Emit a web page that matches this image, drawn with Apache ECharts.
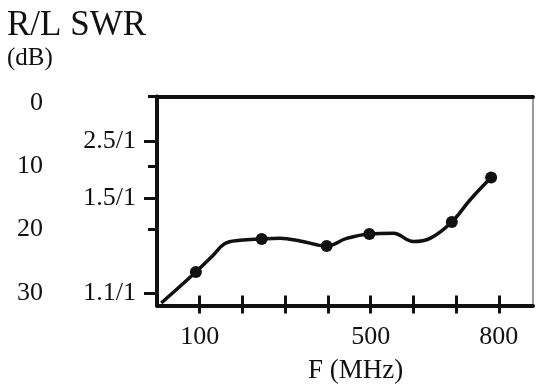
<!DOCTYPE html>
<html>
<head>
<meta charset="utf-8">
<script src="https://cdn.jsdelivr.net/npm/echarts@6/dist/echarts.min.js"></script>
<style>
html,body{margin:0;padding:0;background:#fff;}
#chart{width:537px;height:385px;}
</style>
</head>
<body>
<div id="chart"></div>
<script>
// Frequency (MHz) and return loss (dB)
var curveFreq = [10, 91, 128, 159, 194, 245, 288, 335, 397, 444, 497, 553, 600, 639, 690, 733, 782];
var curveRL   = [31.6, 26.7, 24.3, 22.2, 21.7, 21.5, 21.4, 21.8, 22.6, 21.4, 20.7, 20.6, 21.9, 21.4, 18.8, 15.3, 11.8];
var markerFreq = [91, 245, 397, 497, 690, 782];
var markerRL   = [26.7, 21.5, 22.6, 20.7, 18.8, 11.8];

var xTickValues = [100, 200, 300, 400, 500, 600, 700, 800];
var xLabelValues = [100, 500, 800];
var dbLabelValues = [0, 10, 20, 30];
var dbTickValues = [-1, 10, 20];
var swrTickValues = [6, 15, 30];
var swrLabels = ['2.5/1', '1.5/1', '1.1/1'];

var FONT = '"Liberation Serif", "DejaVu Serif", serif';
var INK = '#111';

var chart = echarts.init(document.getElementById('chart'), null, {renderer: 'canvas'});

var curveData = curveFreq.map(function (f, i) { return [f, curveRL[i]]; });
var markerData = markerFreq.map(function (f, i) { return [f, markerRL[i]]; });

var xBase = {type: 'value', min: 0, max: 880, splitLine: {show: false}};
var yBase = {type: 'value', min: -1, max: 32, inverse: true, splitLine: {show: false}};

var option = {
  backgroundColor: '#fff',
  animation: false,
  grid: {left: 157, right: 4, top: 96.5, bottom: 79.5, outerBoundsMode: 'none'},
  xAxis: [
    Object.assign({}, xBase, {
      position: 'bottom',
      axisLine: {show: true, onZero: false, lineStyle: {color: INK, width: 4}},
      axisTick: {show: true, customValues: xTickValues, length: 8, inside: false, lineStyle: {color: INK, width: 3}},
      axisLabel: {show: true, customValues: xLabelValues, margin: 19, color: INK, fontFamily: FONT, fontSize: 26}
    }),
    Object.assign({}, xBase, {
      position: 'bottom',
      axisLine: {show: false, onZero: false},
      axisTick: {show: true, customValues: xTickValues, length: 10, inside: true, lineStyle: {color: INK, width: 3}},
      axisLabel: {show: false}
    }),
    Object.assign({}, xBase, {
      position: 'top',
      axisLine: {show: true, onZero: false, lineStyle: {color: INK, width: 4}},
      axisTick: {show: false},
      axisLabel: {show: false}
    })
  ],
  yAxis: [
    Object.assign({}, yBase, {
      position: 'left',
      axisLine: {show: true, onZero: false, lineStyle: {color: INK, width: 4}},
      axisTick: {show: true, customValues: swrTickValues, length: 13, lineStyle: {color: INK, width: 3}},
      axisLabel: {
        show: true, customValues: swrTickValues, margin: 21, color: INK, fontFamily: FONT, fontSize: 26,
        formatter: function (v) { var i = swrTickValues.indexOf(v); return i >= 0 ? swrLabels[i] : ''; }
      }
    }),
    Object.assign({}, yBase, {
      position: 'left',
      axisLine: {show: false, onZero: false},
      axisTick: {show: true, customValues: dbTickValues, length: 9, lineStyle: {color: INK, width: 3}},
      axisLabel: {show: true, customValues: dbLabelValues, margin: 114, color: INK, fontFamily: FONT, fontSize: 26}
    }),
    Object.assign({}, yBase, {
      position: 'right',
      axisLine: {show: true, onZero: false, lineStyle: {color: '#777', width: 1.5}},
      axisTick: {show: false},
      axisLabel: {show: false}
    })
  ],
  graphic: [
    {type: 'text', left: 7, top: 8, style: {text: 'R/L SWR', fill: INK, font: '35px ' + FONT}},
    {type: 'text', left: 7, top: 46, style: {text: '(dB)', fill: INK, font: '25px ' + FONT}},
    {type: 'text', left: 308, top: 357, style: {text: 'F (MHz)', fill: INK, font: '27px ' + FONT}}
  ],
  series: [
    {
      type: 'line', xAxisIndex: 0, yAxisIndex: 0, data: curveData, smooth: 0.4,
      showSymbol: false, symbol: 'none',
      lineStyle: {color: INK, width: 3.5}
    },
    {
      type: 'scatter', xAxisIndex: 0, yAxisIndex: 0, data: markerData,
      symbol: 'circle', symbolSize: 12, itemStyle: {color: INK, opacity: 1}
    }
  ]
};
chart.setOption(option);
</script>
</body>
</html>
